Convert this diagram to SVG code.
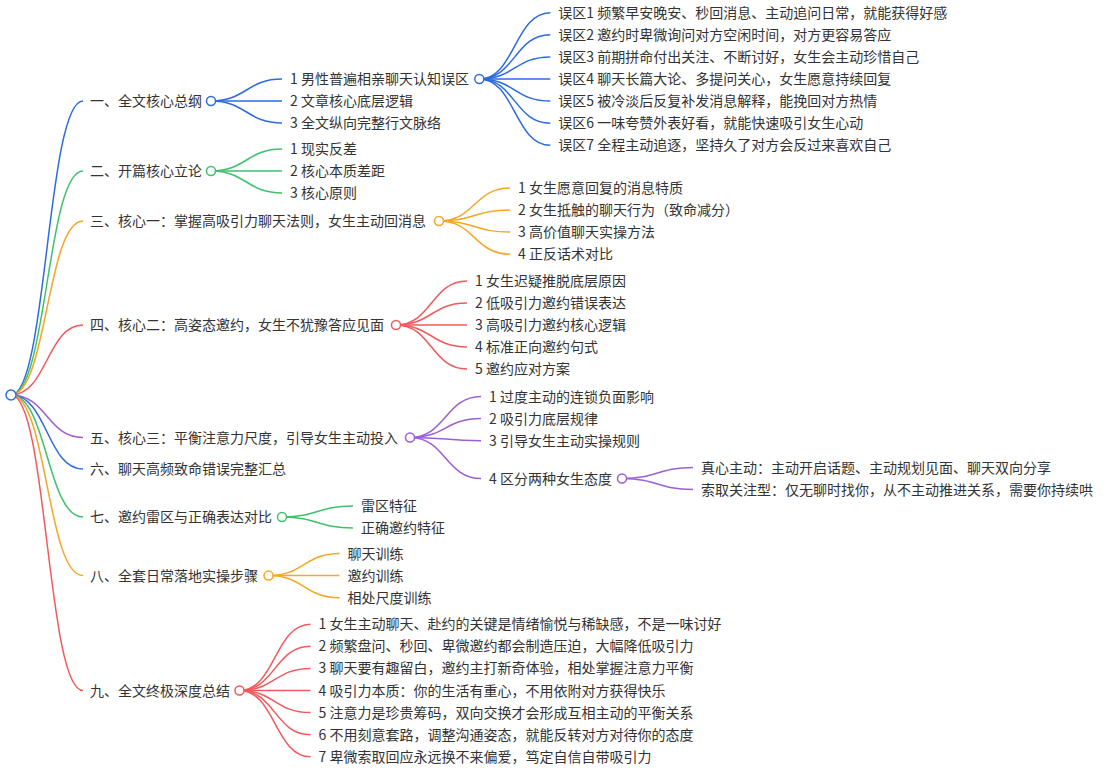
<svg xmlns="http://www.w3.org/2000/svg" width="1109" height="778" viewBox="0 0 1109 778">
<style>
text { font-family: "Noto Sans CJK SC", "Noto Sans", sans-serif; font-size: 14px; fill: #333; }
path { fill: none; stroke-width: 1.5; }
circle { fill: #fff; stroke-width: 1.5; }
.b { stroke: #2d6be0; }
.g { stroke: #3fc06c; }
.o { stroke: #f5a623; }
.r { stroke: #f2595c; }
.p { stroke: #9b5fd6; }
</style>
<rect width="1109" height="778" fill="#fff"/>
<g id="connectors">
  <!-- root -->
  <path class="b" d="M11,395 C47,395 47,101 83,101"/>
  <path class="g" d="M11,395 C47,395 47,171 83,171"/>
  <path class="o" d="M11,395 C47,395 47,221 83,221"/>
  <path class="r" d="M11,395 C47,395 47,325 83,325"/>
  <path class="p" d="M11,395 C47,395 47,437.5 83,437.5"/>
  <path class="b" d="M11,395 C47,395 47,469 83,469"/>
  <path class="g" d="M11,395 C47,395 47,517 83,517"/>
  <path class="o" d="M11,395 C47,395 47,575.6 83,575.6"/>
  <path class="r" d="M11,395 C47,395 47,690.5 83,690.5"/>
  <!-- 一 -->
  <path class="b" d="M211,101 C246.5,101 246.5,79 282,79"/>
  <path class="b" d="M211,101 C246.5,101 246.5,101 282,101"/>
  <path class="b" d="M211,101 C246.5,101 246.5,123 282,123"/>
  <!-- 误区 -->
  <path class="b" d="M479.3,79 C514.8,79 514.8,12.7 550.3,12.7"/>
  <path class="b" d="M479.3,79 C514.8,79 514.8,34.8 550.3,34.8"/>
  <path class="b" d="M479.3,79 C514.8,79 514.8,56.9 550.3,56.9"/>
  <path class="b" d="M479.3,79 C514.8,79 514.8,79 550.3,79"/>
  <path class="b" d="M479.3,79 C514.8,79 514.8,101.1 550.3,101.1"/>
  <path class="b" d="M479.3,79 C514.8,79 514.8,123.2 550.3,123.2"/>
  <path class="b" d="M479.3,79 C514.8,79 514.8,145.3 550.3,145.3"/>
  <!-- 二 -->
  <path class="g" d="M211,171 C246.5,171 246.5,149 282,149"/>
  <path class="g" d="M211,171 C246.5,171 246.5,171 282,171"/>
  <path class="g" d="M211,171 C246.5,171 246.5,193 282,193"/>
  <!-- 三 -->
  <path class="o" d="M439,221 C474.5,221 474.5,187.9 510,187.9"/>
  <path class="o" d="M439,221 C474.5,221 474.5,210 510,210"/>
  <path class="o" d="M439,221 C474.5,221 474.5,232.1 510,232.1"/>
  <path class="o" d="M439,221 C474.5,221 474.5,254.2 510,254.2"/>
  <!-- 四 -->
  <path class="r" d="M396,325 C431.5,325 431.5,281 467,281"/>
  <path class="r" d="M396,325 C431.5,325 431.5,303 467,303"/>
  <path class="r" d="M396,325 C431.5,325 431.5,325 467,325"/>
  <path class="r" d="M396,325 C431.5,325 431.5,347 467,347"/>
  <path class="r" d="M396,325 C431.5,325 431.5,369 467,369"/>
  <!-- 五 -->
  <path class="p" d="M410,437.5 C445.5,437.5 445.5,396.5 481,396.5"/>
  <path class="p" d="M410,437.5 C445.5,437.5 445.5,418.6 481,418.6"/>
  <path class="p" d="M410,437.5 C445.5,437.5 445.5,440.7 481,440.7"/>
  <path class="p" d="M410,437.5 C445.5,437.5 445.5,478.5 481,478.5"/>
  <!-- 4 区分 -->
  <path class="p" d="M622,478.5 C657.5,478.5 657.5,467.5 693,467.5"/>
  <path class="p" d="M622,478.5 C657.5,478.5 657.5,489.5 693,489.5"/>
  <!-- 七 -->
  <path class="g" d="M282,517 C317.5,517 317.5,506 353,506"/>
  <path class="g" d="M282,517 C317.5,517 317.5,528 353,528"/>
  <!-- 八 -->
  <path class="o" d="M268.5,575.6 C304,575.6 304,553.5 339.5,553.5"/>
  <path class="o" d="M268.5,575.6 C304,575.6 304,575.6 339.5,575.6"/>
  <path class="o" d="M268.5,575.6 C304,575.6 304,597.7 339.5,597.7"/>
  <!-- 九 -->
  <path class="r" d="M239.5,690.5 C275,690.5 275,624.2 310.5,624.2"/>
  <path class="r" d="M239.5,690.5 C275,690.5 275,646.3 310.5,646.3"/>
  <path class="r" d="M239.5,690.5 C275,690.5 275,668.4 310.5,668.4"/>
  <path class="r" d="M239.5,690.5 C275,690.5 275,690.5 310.5,690.5"/>
  <path class="r" d="M239.5,690.5 C275,690.5 275,712.6 310.5,712.6"/>
  <path class="r" d="M239.5,690.5 C275,690.5 275,734.7 310.5,734.7"/>
  <path class="r" d="M239.5,690.5 C275,690.5 275,756.8 310.5,756.8"/>
</g>

<g id="root"><circle class="b" cx="11" cy="395" r="5"/></g>

<g id="n1"><text x="90" y="106">一、全文核心总纲</text><circle class="b" cx="211" cy="101" r="4.5"/></g>
<g id="n1-1"><text x="290" y="84">1 男性普遍相亲聊天认知误区</text><circle class="b" cx="479.3" cy="79" r="4.5"/></g>
<g id="n1-1-1"><text x="558.3" y="17.7">误区1 频繁早安晚安、秒回消息、主动追问日常，就能获得好感</text></g>
<g id="n1-1-2"><text x="558.3" y="39.8">误区2 邀约时卑微询问对方空闲时间，对方更容易答应</text></g>
<g id="n1-1-3"><text x="558.3" y="61.9">误区3 前期拼命付出关注、不断讨好，女生会主动珍惜自己</text></g>
<g id="n1-1-4"><text x="558.3" y="84">误区4 聊天长篇大论、多提问关心，女生愿意持续回复</text></g>
<g id="n1-1-5"><text x="558.3" y="106.1">误区5 被冷淡后反复补发消息解释，能挽回对方热情</text></g>
<g id="n1-1-6"><text x="558.3" y="128.2">误区6 一味夸赞外表好看，就能快速吸引女生心动</text></g>
<g id="n1-1-7"><text x="558.3" y="150.3">误区7 全程主动追逐，坚持久了对方会反过来喜欢自己</text></g>
<g id="n1-2"><text x="290" y="106">2 文章核心底层逻辑</text></g>
<g id="n1-3"><text x="290" y="128">3 全文纵向完整行文脉络</text></g>

<g id="n2"><text x="90" y="176">二、开篇核心立论</text><circle class="g" cx="211" cy="171" r="4.5"/></g>
<g id="n2-1"><text x="290" y="154">1 现实反差</text></g>
<g id="n2-2"><text x="290" y="176">2 核心本质差距</text></g>
<g id="n2-3"><text x="290" y="198">3 核心原则</text></g>

<g id="n3"><text x="90" y="226">三、核心一：掌握高吸引力聊天法则，女生主动回消息</text><circle class="o" cx="439" cy="221" r="4.5"/></g>
<g id="n3-1"><text x="518" y="192.9">1 女生愿意回复的消息特质</text></g>
<g id="n3-2"><text x="518" y="215">2 女生抵触的聊天行为（致命减分）</text></g>
<g id="n3-3"><text x="518" y="237.1">3 高价值聊天实操方法</text></g>
<g id="n3-4"><text x="518" y="259.2">4 正反话术对比</text></g>

<g id="n4"><text x="90" y="330">四、核心二：高姿态邀约，女生不犹豫答应见面</text><circle class="r" cx="396" cy="325" r="4.5"/></g>
<g id="n4-1"><text x="475" y="286">1 女生迟疑推脱底层原因</text></g>
<g id="n4-2"><text x="475" y="308">2 低吸引力邀约错误表达</text></g>
<g id="n4-3"><text x="475" y="330">3 高吸引力邀约核心逻辑</text></g>
<g id="n4-4"><text x="475" y="352">4 标准正向邀约句式</text></g>
<g id="n4-5"><text x="475" y="374">5 邀约应对方案</text></g>

<g id="n5"><text x="90" y="442.5">五、核心三：平衡注意力尺度，引导女生主动投入</text><circle class="p" cx="410" cy="437.5" r="4.5"/></g>
<g id="n5-1"><text x="489" y="401.5">1 过度主动的连锁负面影响</text></g>
<g id="n5-2"><text x="489" y="423.6">2 吸引力底层规律</text></g>
<g id="n5-3"><text x="489" y="445.7">3 引导女生主动实操规则</text></g>
<g id="n5-4"><text x="489" y="483.5">4 区分两种女生态度</text><circle class="p" cx="622" cy="478.5" r="4.5"/></g>
<g id="n5-4-1"><text x="701" y="472.5">真心主动：主动开启话题、主动规划见面、聊天双向分享</text></g>
<g id="n5-4-2"><text x="701" y="494.5">索取关注型：仅无聊时找你，从不主动推进关系，需要你持续哄</text></g>

<g id="n6"><text x="90" y="474">六、聊天高频致命错误完整汇总</text></g>

<g id="n7"><text x="90" y="522">七、邀约雷区与正确表达对比</text><circle class="g" cx="282" cy="517" r="4.5"/></g>
<g id="n7-1"><text x="361" y="511">雷区特征</text></g>
<g id="n7-2"><text x="361" y="533">正确邀约特征</text></g>

<g id="n8"><text x="90" y="580.6">八、全套日常落地实操步骤</text><circle class="o" cx="268.5" cy="575.6" r="4.5"/></g>
<g id="n8-1"><text x="347.5" y="558.5">聊天训练</text></g>
<g id="n8-2"><text x="347.5" y="580.6">邀约训练</text></g>
<g id="n8-3"><text x="347.5" y="602.7">相处尺度训练</text></g>

<g id="n9"><text x="90" y="695.5">九、全文终极深度总结</text><circle class="r" cx="239.5" cy="690.5" r="4.5"/></g>
<g id="n9-1"><text x="318.5" y="629.2">1 女生主动聊天、赴约的关键是情绪愉悦与稀缺感，不是一味讨好</text></g>
<g id="n9-2"><text x="318.5" y="651.3">2 频繁盘问、秒回、卑微邀约都会制造压迫，大幅降低吸引力</text></g>
<g id="n9-3"><text x="318.5" y="673.4">3 聊天要有趣留白，邀约主打新奇体验，相处掌握注意力平衡</text></g>
<g id="n9-4"><text x="318.5" y="695.5">4 吸引力本质：你的生活有重心，不用依附对方获得快乐</text></g>
<g id="n9-5"><text x="318.5" y="717.6">5 注意力是珍贵筹码，双向交换才会形成互相主动的平衡关系</text></g>
<g id="n9-6"><text x="318.5" y="739.7">6 不用刻意套路，调整沟通姿态，就能反转对方对待你的态度</text></g>
<g id="n9-7"><text x="318.5" y="761.8">7 卑微索取回应永远换不来偏爱，笃定自信自带吸引力</text></g>
</svg>
